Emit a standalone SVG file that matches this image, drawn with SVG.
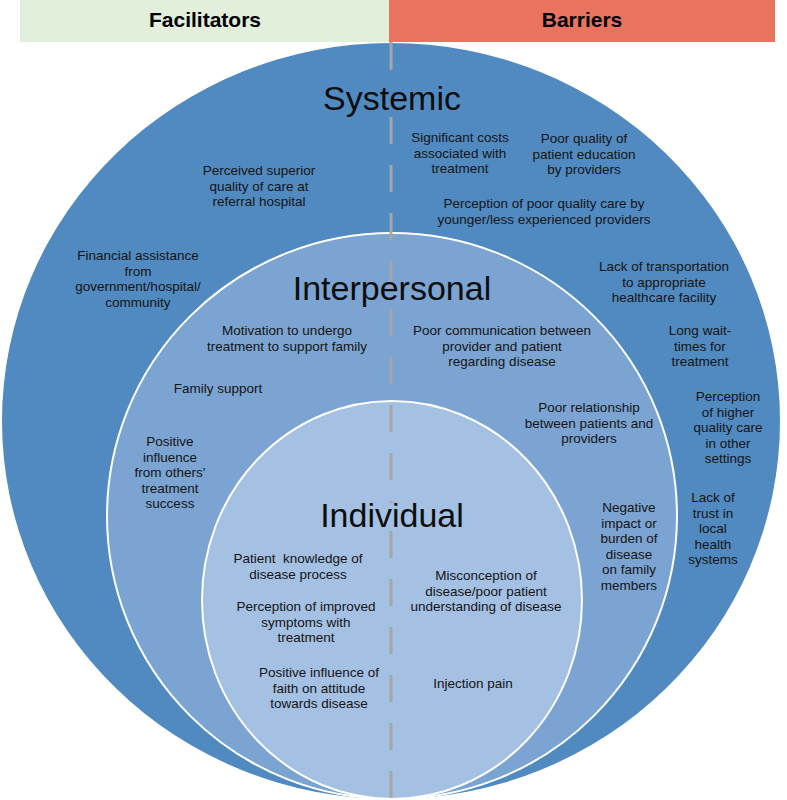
<svg xmlns="http://www.w3.org/2000/svg" width="787" height="800" viewBox="0 0 787 800">
<style>
.hdr{font-family:"Liberation Sans",Arial,sans-serif;font-weight:bold;font-size:21px;fill:#000;text-anchor:middle}
.ttl{font-family:"Liberation Sans",Arial,sans-serif;font-size:34px;fill:#0d0d0d;text-anchor:middle}
.t{font-family:"Liberation Sans",Arial,sans-serif;font-size:13.5px;fill:#141414;text-anchor:middle;white-space:pre}
.ring{stroke:#ffffff;stroke-width:2}
.div{stroke:#a6a6a6;stroke-width:3;fill:none}
</style>
<rect width="787" height="800" fill="#ffffff"/>
<g id="header-facilitators">
<rect x="20" y="0" width="369" height="42" fill="#e2efda"/>
<text class="hdr" x="205" y="27">Facilitators</text>
</g>
<g id="header-barriers">
<rect x="389" y="0" width="386" height="42" fill="#e9735f"/>
<text class="hdr" x="582" y="27">Barriers</text>
</g>
<g id="rings">
<ellipse cx="391" cy="421" rx="389" ry="378" fill="#508ac0"/>
<ellipse class="ring" cx="392" cy="516" rx="285" ry="283" fill="#7ba4d2"/>
<ellipse class="ring" cx="392" cy="600" rx="190" ry="199" fill="#a4c0e3"/>
</g>
<g id="connectors">
<line class="div" x1="391" y1="42" x2="391" y2="70"/>
<line class="div" x1="391" y1="117" x2="391" y2="503" stroke-dasharray="27 21"/>
<line class="div" x1="391" y1="531" x2="391" y2="798" stroke-dasharray="27 21"/>
</g>
<g id="systemic">
<text class="ttl" x="392" y="110">Systemic</text>
<text class="t" x="259" y="175"><tspan x="259">Perceived superior</tspan><tspan x="259" dy="15.6">quality of care at</tspan><tspan x="259" dy="15.6">referral hospital</tspan></text>
<text class="t" x="138" y="260"><tspan x="138">Financial assistance</tspan><tspan x="138" dy="15.6">from</tspan><tspan x="138" dy="15.6">government/hospital/</tspan><tspan x="138" dy="15.6">community</tspan></text>
<text class="t" x="460" y="142"><tspan x="460">Significant costs</tspan><tspan x="460" dy="15.6">associated with</tspan><tspan x="460" dy="15.6">treatment</tspan></text>
<text class="t" x="584" y="143"><tspan x="584">Poor quality of</tspan><tspan x="584" dy="15.6">patient education</tspan><tspan x="584" dy="15.6">by providers</tspan></text>
<text class="t" x="544" y="208"><tspan x="544">Perception of poor quality care by</tspan><tspan x="544" dy="15.6">younger/less experienced providers</tspan></text>
<text class="t" x="664" y="271"><tspan x="664">Lack of transportation</tspan><tspan x="664" dy="15.6">to appropriate</tspan><tspan x="664" dy="15.6">healthcare facility</tspan></text>
<text class="t" x="700" y="335"><tspan x="700">Long wait-</tspan><tspan x="700" dy="15.6">times for</tspan><tspan x="700" dy="15.6">treatment</tspan></text>
<text class="t" x="728" y="401"><tspan x="728">Perception</tspan><tspan x="728" dy="15.6">of higher</tspan><tspan x="728" dy="15.6">quality care</tspan><tspan x="728" dy="15.6">in other</tspan><tspan x="728" dy="15.6">settings</tspan></text>
<text class="t" x="713" y="502"><tspan x="713">Lack of</tspan><tspan x="713" dy="15.6">trust in</tspan><tspan x="713" dy="15.6">local</tspan><tspan x="713" dy="15.6">health</tspan><tspan x="713" dy="15.6">systems</tspan></text>
</g>
<g id="interpersonal">
<text class="ttl" x="392" y="300">Interpersonal</text>
<text class="t" x="287" y="335"><tspan x="287">Motivation to undergo</tspan><tspan x="287" dy="15.6">treatment to support family</tspan></text>
<text class="t" x="218" y="393">Family support</text>
<text class="t" x="170" y="446"><tspan x="170">Positive</tspan><tspan x="170" dy="15.6">influence</tspan><tspan x="170" dy="15.6">from others'</tspan><tspan x="170" dy="15.6">treatment</tspan><tspan x="170" dy="15.6">success</tspan></text>
<text class="t" x="502" y="335"><tspan x="502">Poor communication between</tspan><tspan x="502" dy="15.6">provider and patient</tspan><tspan x="502" dy="15.6">regarding disease</tspan></text>
<text class="t" x="589" y="412"><tspan x="589">Poor relationship</tspan><tspan x="589" dy="15.6">between patients and</tspan><tspan x="589" dy="15.6">providers</tspan></text>
<text class="t" x="629" y="512"><tspan x="629">Negative</tspan><tspan x="629" dy="15.6">impact or</tspan><tspan x="629" dy="15.6">burden of</tspan><tspan x="629" dy="15.6">disease</tspan><tspan x="629" dy="15.6">on family</tspan><tspan x="629" dy="15.6">members</tspan></text>
</g>
<g id="individual">
<text class="ttl" x="392" y="527">Individual</text>
<text class="t" x="298" y="563"><tspan x="298">Patient  knowledge of</tspan><tspan x="298" dy="15.6">disease process</tspan></text>
<text class="t" x="306" y="611"><tspan x="306">Perception of improved</tspan><tspan x="306" dy="15.6">symptoms with</tspan><tspan x="306" dy="15.6">treatment</tspan></text>
<text class="t" x="319" y="677"><tspan x="319">Positive influence of</tspan><tspan x="319" dy="15.6">faith on attitude</tspan><tspan x="319" dy="15.6">towards disease</tspan></text>
<text class="t" x="486" y="580"><tspan x="486">Misconception of</tspan><tspan x="486" dy="15.6">disease/poor patient</tspan><tspan x="486" dy="15.6">understanding of disease</tspan></text>
<text class="t" x="473" y="688">Injection pain</text>
</g>
</svg>
